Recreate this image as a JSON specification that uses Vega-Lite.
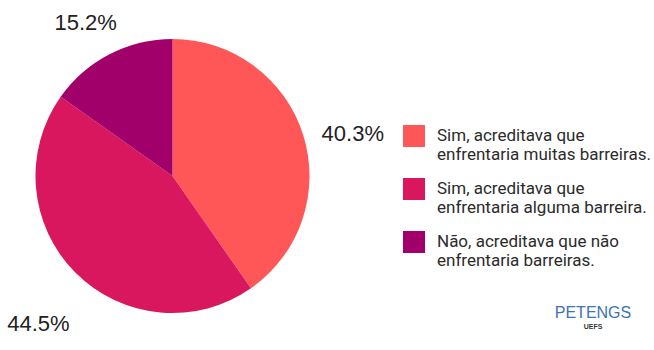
{
  "$schema": "https://vega.github.io/schema/vega-lite/v6.json",
  "width": 345,
  "height": 340,
  "padding": {"top": 6, "left": 0, "right": 309, "bottom": 4},
  "autosize": {"type": "none"},
  "background": "white",
  "config": {"view": {"stroke": null}, "font": "Liberation Sans"},
  "title": {
    "text": "PETENGS",
    "subtitle": "UEFS",
    "orient": "bottom",
    "anchor": "end",
    "frame": "group",
    "align": "center",
    "offset": -41,
    "dx": 248,
    "fontSize": 16,
    "font": "Liberation Sans",
    "fontWeight": "normal",
    "color": "#3d72b4",
    "subtitleFontSize": 7,
    "subtitleColor": "#333",
    "subtitleFontWeight": "bold",
    "subtitlePadding": 2
  },
  "data": {
    "values": [
      {"i": 1, "cat": "Sim, acreditava que|enfrentaria muitas barreiras.", "pct": 40.3, "label": "40.3%"},
      {"i": 2, "cat": "Sim, acreditava que| enfrentaria alguma barreira.", "pct": 44.5, "label": "44.5%"},
      {"i": 3, "cat": "Não, acreditava que não|enfrentaria barreiras.", "pct": 15.2, "label": "15.2%"}
    ]
  },
  "encoding": {
    "theta": {"field": "pct", "type": "quantitative", "stack": true},
    "order": {"field": "i", "type": "quantitative"}
  },
  "layer": [
    {
      "mark": {"type": "arc", "outerRadius": 137},
      "encoding": {
        "color": {
          "field": "cat",
          "type": "nominal",
          "sort": null,
          "scale": {
            "domain": [
              "Sim, acreditava que|enfrentaria muitas barreiras.",
              "Sim, acreditava que| enfrentaria alguma barreira.",
              "Não, acreditava que não|enfrentaria barreiras."
            ],
            "range": ["#ff5757", "#d8175f", "#a1006b"]
          },
          "legend": {
            "title": null,
            "orient": "none",
            "legendX": 403,
            "legendY": 119,
            "padding": 0,
            "symbolType": "square",
            "symbolSize": 484,
            "symbolStrokeWidth": 0,
            "labelExpr": "split(datum.label, '|')",
            "labelFont": "Roboto",
            "labelFontSize": 17,
            "labelColor": "#2b2b2b",
            "labelOffset": 12,
            "labelLimit": 300,
            "rowPadding": 15
          }
        }
      }
    },
    {
      "mark": {"type": "text", "radius": 189, "dy": 15, "fontSize": 22, "font": "Liberation Sans", "color": "#222222"},
      "encoding": {
        "text": {"field": "label"}
      }
    }
  ]
}
